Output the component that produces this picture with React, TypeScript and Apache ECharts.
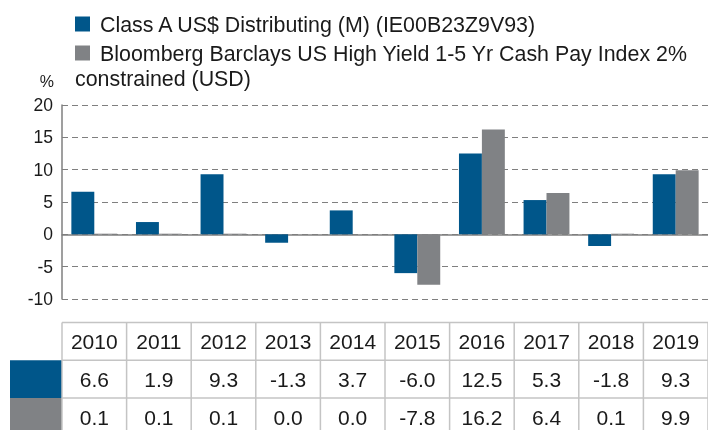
import React, { useEffect, useRef } from "react";
import * as echarts from "echarts";

const years = ["2010", "2011", "2012", "2013", "2014", "2015", "2016", "2017", "2018", "2019"];
const fundValues = [6.6, 1.9, 9.3, -1.3, 3.7, -6.0, 12.5, 5.3, -1.8, 9.3];
const indexValues = [0.1, 0.1, 0.1, 0.0, 0.0, -7.8, 16.2, 6.4, 0.1, 9.9];
const fundName = "Class A US$ Distributing (M) (IE00B23Z9V93)";
const indexNameLine1 = "Bloomberg Barclays US High Yield 1-5 Yr Cash Pay Index 2%";
const indexNameLine2 = "constrained (USD)";
const yTicks = { min: -10, max: 20, interval: 5 };

const BLUE = "#00568a";
const GRAY = "#808285";
const FONT = "Liberation Sans, Arial, sans-serif";
const TEXT = "#1a1a1a";

export default function App() {
  const ref = useRef<HTMLDivElement>(null);
  useEffect(() => {
    if (!ref.current) return;
    const chart = echarts.init(ref.current, null, { renderer: "svg" });
    const W = 708;
    const plotLeft = 62;
    const plotW = W - plotLeft;
    const colW = plotW / years.length;
    const tTop = 322.5;
    const rowH = 37.8;
    const lineColor = "#c4c4c4";
    const graphics: any[] = [];
    // legend
    graphics.push({ type: "rect", shape: { x: 75, y: 16.5, width: 15, height: 15 }, style: { fill: BLUE } });
    graphics.push({ type: "text", x: 100, y: 25, style: { text: fundName, font: `21.4px ${FONT}`, fill: TEXT, textVerticalAlign: "middle" } });
    graphics.push({ type: "rect", shape: { x: 75, y: 45.5, width: 15, height: 15 }, style: { fill: GRAY } });
    graphics.push({ type: "text", x: 100, y: 54, style: { text: indexNameLine1, font: `21.4px ${FONT}`, fill: TEXT, textVerticalAlign: "middle" } });
    graphics.push({ type: "text", x: 75, y: 78.5, style: { text: indexNameLine2, font: `21.4px ${FONT}`, fill: TEXT, textVerticalAlign: "middle" } });
    graphics.push({ type: "text", x: 54, y: 81, style: { text: "%", font: `16px ${FONT}`, fill: TEXT, textAlign: "right", textVerticalAlign: "middle" } });
    // table
    graphics.push({ type: "rect", shape: { x: 10, y: tTop + rowH, width: plotLeft - 10, height: rowH }, style: { fill: BLUE } });
    graphics.push({ type: "rect", shape: { x: 10, y: tTop + 2 * rowH, width: plotLeft - 10, height: rowH }, style: { fill: GRAY } });
    graphics.push({ type: "line", shape: { x1: plotLeft, y1: tTop, x2: W, y2: tTop }, style: { stroke: lineColor, lineWidth: 1.5 } });
    graphics.push({ type: "line", shape: { x1: plotLeft, y1: tTop + rowH, x2: W, y2: tTop + rowH }, style: { stroke: lineColor, lineWidth: 1.5 } });
    graphics.push({ type: "line", shape: { x1: plotLeft, y1: tTop + 2 * rowH, x2: W, y2: tTop + 2 * rowH }, style: { stroke: lineColor, lineWidth: 1.5 } });
    for (let i = 0; i <= years.length; i++) {
      const x = plotLeft + i * colW;
      graphics.push({ type: "line", shape: { x1: x, y1: tTop, x2: x, y2: 430 }, style: { stroke: lineColor, lineWidth: 1.5 } });
    }
    const rows = [years, fundValues.map((v) => v.toFixed(1)), indexValues.map((v) => v.toFixed(1))];
    rows.forEach((row, r) => {
      row.forEach((t, i) => {
        graphics.push({
          type: "text",
          x: plotLeft + (i + 0.5) * colW,
          y: tTop + (r + 0.5) * rowH + 0.5,
          style: { text: t, font: `21px ${FONT}`, fill: TEXT, textAlign: "center", textVerticalAlign: "middle" },
        });
      });
    });

    chart.setOption({
      animation: false,
      grid: { left: plotLeft, right: 0, top: 105, height: 194 },
      xAxis: {
        type: "category",
        data: years,
        axisLabel: { show: false },
        axisTick: { show: false },
        axisLine: { onZero: true, lineStyle: { color: "#7f7f7f", width: 1.5 } },
      },
      yAxis: {
        type: "value",
        min: yTicks.min,
        max: yTicks.max,
        interval: yTicks.interval,
        axisLine: { show: true, lineStyle: { color: "#7f7f7f", width: 1.5 } },
        axisTick: { show: false },
        axisLabel: { color: TEXT, fontSize: 17.5, fontFamily: FONT, margin: 9 },
        splitLine: { lineStyle: { color: "#7f7f7f", type: [6, 4], width: 1.2 } },
      },
      series: [
        { name: fundName, type: "bar", data: fundValues, itemStyle: { color: BLUE }, barGap: "0%", barCategoryGap: "29%" },
        { name: indexNameLine1 + " " + indexNameLine2, type: "bar", data: indexValues, itemStyle: { color: GRAY }, barGap: "0%", barCategoryGap: "29%" },
      ],
      graphic: graphics,
    });
    return () => chart.dispose();
  }, []);
  return <div ref={ref} style={{ position: "fixed", left: 0, top: 0, width: 708, height: 430 }} />;
}
